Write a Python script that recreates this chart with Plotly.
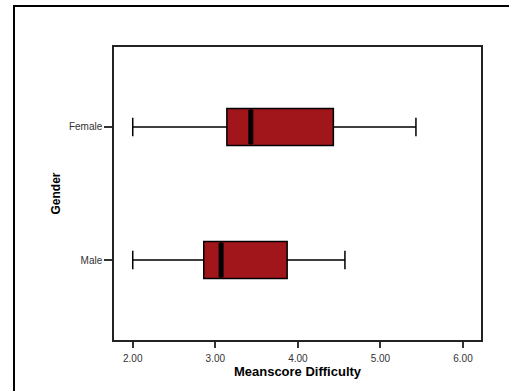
import plotly.graph_objects as go

categories = ["Male", "Female"]
cat_pos = [0, 1]
lower_whisker = [2.00, 2.00]
q1 = [2.86, 3.14]
median = [3.07, 3.43]
q3 = [3.87, 4.43]
upper_whisker = [4.57, 5.43]
x_ticks = [2, 3, 4, 5, 6]
x_ticklabels = ["2.00", "3.00", "4.00", "5.00", "6.00"]

BOX_W = 0.278
FILL = "#A1161B"
FONT = "Liberation Sans, Arial, sans-serif"

fig = go.Figure()
fig.add_trace(go.Box(
    y=cat_pos, q1=q1, median=median, q3=q3,
    lowerfence=lower_whisker, upperfence=upper_whisker,
    orientation="h", width=BOX_W, whiskerwidth=0.5,
    fillcolor=FILL, line=dict(color="black", width=1.5),
    boxpoints=False, showlegend=False, hoverinfo="skip",
))
for yp, m in zip(cat_pos, median):
    fig.add_trace(go.Scatter(
        x=[m, m], y=[yp - BOX_W / 2 + 0.01, yp + BOX_W / 2 - 0.01],
        mode="lines", line=dict(color="black", width=5),
        showlegend=False, hoverinfo="skip",
    ))

W, H = 509, 391
ml, mt = 114, 47
mr = W - 481
mb = H - 340
pw, ph = W - ml - mr, H - mt - mb
fig.add_shape(type="rect", xref="paper", yref="paper",
              x0=(14 - ml) / pw, x1=(W + 20 - ml) / pw,
              y0=-(H + 20 - mt - ph) / ph, y1=1 + (mt - 6) / ph,
              line=dict(color="black", width=2), layer="below")

fig.update_layout(
    width=W, height=H,
    margin=dict(l=ml, r=mr, t=mt, b=mb, autoexpand=False),
    paper_bgcolor="white", plot_bgcolor="white",
    font=dict(family=FONT, size=10, color="#333333"),
    xaxis=dict(
        range=[1.773, 6.218], tickvals=x_ticks, ticktext=x_ticklabels,
        ticks="outside", ticklen=6, tickcolor="#333333", tickwidth=1.5,
        ticklabelstandoff=2,
        showline=True, mirror=True, linecolor="#222222", linewidth=1.5,
        showgrid=False, zeroline=False,
        title=dict(text="<b>Meanscore Difficulty</b>", font=dict(size=13, color="black"), standoff=4),
    ),
    yaxis=dict(
        range=[-0.6, 1.6], tickvals=cat_pos, ticktext=categories,
        ticks="outside", ticklen=8, tickcolor="#333333", tickwidth=1.5,
        showline=True, mirror=True, linecolor="#222222", linewidth=1.5,
        showgrid=False, zeroline=False,
        title=dict(text="<b>Gender</b>", font=dict(size=12, color="black"), standoff=6),
    ),
)

fig.write_html("out.html",
               config={"displayModeBar": False},
               post_script="document.body.style.margin='0';document.body.style.overflow='hidden';")
